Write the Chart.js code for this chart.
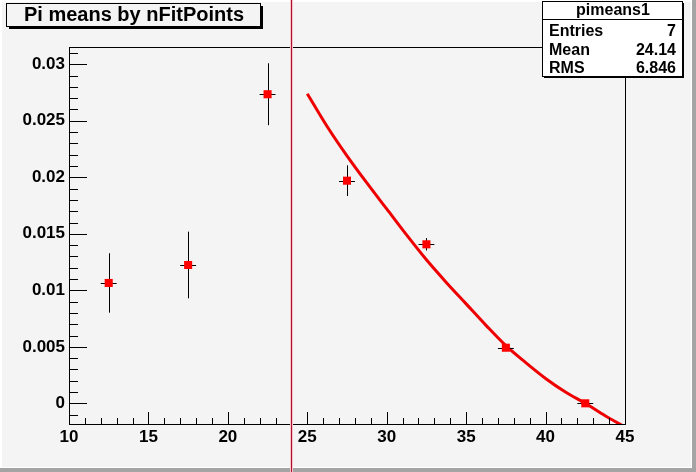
<!DOCTYPE html>
<html>
<head>
<meta charset="utf-8">
<script src="https://cdn.jsdelivr.net/npm/chart.js@4/dist/chart.umd.min.js"></script>
<style>
  html, body { margin: 0; padding: 0; background: #f4f4f4; }
  #wrap { width: 696px; height: 472px; position: relative; }
</style>
</head>
<body>
<div id="wrap"><canvas id="c" width="696" height="472"></canvas></div>
<script>
// ---- data ----
const titleText = "Pi means by nFitPoints";
const statsName = "pimeans1";
const statsLabels = ["Entries", "Mean", "RMS"];
const statsValues = ["7", "24.14", "6.846"];

const binCenters = [12.5, 17.5, 22.5, 27.5, 32.5, 37.5, 42.5];
const binMeans   = [0.01065, 0.01224, 0.02735, 0.0197, 0.01407, 0.00492, 0.0];
const binErrY    = [0.00263, 0.00295, 0.00274, 0.00136, 0.00055, 0.0002, 0.0001];
const binErrX    = [0.5, 0.5, 0.5, 0.5, 0.5, 0.5, 0.5];

const fitX = [25, 26.25, 27.5, 28.75, 30, 31.25, 32.5, 33.75, 35, 36.25, 37.5, 38.75, 40, 41.25, 42.5, 43.75, 45];
const fitY = [0.0274, 0.0245, 0.0219, 0.0195, 0.0172, 0.0149, 0.0127, 0.0107, 0.0088, 0.0069, 0.0051, 0.0036, 0.0022, 0.0010, 0.0000, -0.0011, -0.0021];

const markerLineX = 24;

const xTicks = [10, 15, 20, 25, 30, 35, 40, 45];
const yTicks = [0, 0.005, 0.01, 0.015, 0.02, 0.025, 0.03];
const xRange = [10, 45];
const yRange = [-0.00183, 0.03153];

const FONT = '"Liberation Sans", Arial, Helvetica, sans-serif';
const BG = '#f4f4f4';

const rootPlugin = {
  id: 'rootStyle',
  beforeDraw(chart) {
    const ctx = chart.ctx, W = chart.width, H = chart.height;
    ctx.save();
    ctx.fillStyle = BG;
    ctx.fillRect(0, 0, W, H);
    ctx.fillStyle = '#ffffff';
    ctx.fillRect(0, 0, W, 2);
    ctx.fillRect(0, 0, 2, H);
    ctx.fillStyle = '#a4a4a4';
    ctx.fillRect(0, H - 4, W, 4);
    ctx.fillRect(W - 4, 0, 4, H);
    ctx.fillStyle = '#ffffff';
    ctx.fillRect(2, H - 5, W - 6, 1);
    ctx.fillRect(W - 5, 2, 1, H - 6);
    ctx.restore();
  },
  beforeDatasetDraw(chart, args) {
    if (args.index !== 0) return;
    const ctx = chart.ctx, xs = chart.scales.x, ys = chart.scales.y;
    ctx.save();
    ctx.strokeStyle = '#000000';
    ctx.lineWidth = 1;
    ctx.beginPath();
    for (let i = 0; i < binCenters.length; i++) {
      const px = Math.round(xs.getPixelForValue(binCenters[i])) + 0.5;
      const py = Math.round(ys.getPixelForValue(binMeans[i])) + 0.5;
      const y1 = ys.getPixelForValue(binMeans[i] + binErrY[i]);
      const y2 = ys.getPixelForValue(binMeans[i] - binErrY[i]);
      const x1 = xs.getPixelForValue(binCenters[i] - binErrX[i]);
      const x2 = xs.getPixelForValue(binCenters[i] + binErrX[i]);
      ctx.moveTo(px, y1); ctx.lineTo(px, y2);
      ctx.moveTo(x1, py); ctx.lineTo(x2, py);
    }
    ctx.stroke();
    ctx.restore();
  },
  afterDatasetsDraw(chart) {
    const ctx = chart.ctx, a = chart.chartArea, xs = chart.scales.x, ys = chart.scales.y;
    ctx.save();
    ctx.strokeStyle = '#000000';
    ctx.lineWidth = 1;
    ctx.strokeRect(Math.round(a.left) + 0.5, Math.round(a.top) + 0.5,
                   Math.round(a.right - a.left), Math.round(a.bottom - a.top));
    ctx.beginPath();
    for (let v = xRange[0]; v <= xRange[1] + 1e-9; v += 1) {
      const major = xTicks.indexOf(v) >= 0;
      const px = Math.round(xs.getPixelForValue(v)) + 0.5;
      const len = major ? 12 : 6;
      ctx.moveTo(px, a.bottom); ctx.lineTo(px, a.bottom - len);
    }
    for (let k = -1; k <= 31; k++) {
      const v = k * 0.001;
      const major = (k % 5 === 0);
      const py = Math.round(ys.getPixelForValue(v)) + 0.5;
      if (py < a.top || py > a.bottom) continue;
      const len = major ? 18 : 9;
      ctx.moveTo(a.left, py); ctx.lineTo(a.left + len, py);
    }
    ctx.stroke();
    ctx.restore();
  },
  afterDraw(chart) {
    const ctx = chart.ctx, xs = chart.scales.x;
    ctx.save();
    // title pave
    const tb = {x: 6, y: 3, w: 254, h: 23};
    ctx.fillStyle = '#000';
    ctx.fillRect(tb.x + 3, tb.y + tb.h, tb.w, 3);
    ctx.fillRect(tb.x + tb.w, tb.y + 3, 3, tb.h);
    ctx.fillStyle = BG;
    ctx.fillRect(tb.x, tb.y, tb.w, tb.h);
    ctx.strokeStyle = '#000';
    ctx.lineWidth = 1;
    ctx.strokeRect(tb.x + 0.5, tb.y + 0.5, tb.w, tb.h);
    ctx.fillStyle = '#000';
    ctx.font = 'bold 20px ' + FONT;
    ctx.textAlign = 'center';
    ctx.textBaseline = 'alphabetic';
    ctx.fillText(titleText, tb.x + tb.w / 2 + 1, 21);

    // stats pave
    const sb = {x: 542, y: 1, w: 140, h: 75};
    ctx.fillStyle = '#000';
    ctx.fillRect(sb.x + 2, sb.y + sb.h, sb.w, 2);
    ctx.fillRect(sb.x + sb.w, sb.y + 2, 2, sb.h);
    ctx.fillStyle = '#ffffff';
    ctx.fillRect(sb.x, sb.y, sb.w, sb.h);
    ctx.strokeRect(sb.x + 0.5, sb.y + 0.5, sb.w, sb.h);
    ctx.beginPath();
    ctx.moveTo(sb.x, 19.5); ctx.lineTo(sb.x + sb.w, 19.5);
    ctx.stroke();
    ctx.fillStyle = '#000';
    ctx.font = 'bold 16px ' + FONT;
    ctx.textAlign = 'center';
    ctx.fillText(statsName, sb.x + sb.w / 2 + 1, 15);
    const rowsY = [36, 55, 73];
    for (let i = 0; i < statsLabels.length; i++) {
      ctx.textAlign = 'left';
      ctx.fillText(statsLabels[i], 549, rowsY[i]);
      ctx.textAlign = 'right';
      ctx.fillText(statsValues[i], 676, rowsY[i]);
    }
    ctx.restore();

    // vertical red line across the whole canvas (with soft pink halo like the reference)
    ctx.save();
    const lx = Math.round(xs.getPixelForValue(markerLineX));
    ctx.fillStyle = '#f6c4cc';
    ctx.fillRect(lx - 1, 0, 1, chart.height);
    ctx.fillRect(lx + 1, 0, 1, chart.height);
    ctx.fillStyle = '#b01028';
    ctx.fillRect(lx, 0, 1, chart.height);
    ctx.restore();
  }
};

new Chart(document.getElementById('c'), {
  type: 'scatter',
  data: {
    datasets: [
      {
        label: 'means',
        data: binCenters.map((x, i) => ({x: x, y: binMeans[i]})),
        pointStyle: 'rect',
        pointRadius: 5.7,
        pointHoverRadius: 5.7,
        pointBackgroundColor: '#ff0000',
        pointBorderWidth: 0,
        showLine: false
      },
      {
        label: 'fit',
        data: fitX.map((x, i) => ({x: x, y: fitY[i]})),
        showLine: true,
        borderColor: '#ee0000',
        borderWidth: 3,
        pointRadius: 0,
        cubicInterpolationMode: 'monotone',
        fill: false,
        clip: 0
      }
    ]
  },
  options: {
    responsive: false,
    animation: false,
    events: [],
    devicePixelRatio: 1,
    layout: { padding: { left: 0, top: 47, right: 71, bottom: 0 } },
    plugins: { legend: { display: false }, tooltip: { enabled: false }, title: { display: false } },
    scales: {
      x: {
        type: 'linear',
        min: xRange[0], max: xRange[1],
        grid: { display: false, drawTicks: false },
        border: { display: false },
        afterBuildTicks: (s) => { s.ticks = xTicks.map(v => ({value: v})); },
        afterFit: (s) => { s.height = 48; },
        ticks: {
          autoSkip: false, maxRotation: 0, padding: 3,
          color: '#000',
          font: { family: FONT, size: 17, weight: 'bold' },
          callback: (v) => String(v)
        }
      },
      y: {
        type: 'linear',
        min: yRange[0], max: yRange[1],
        grid: { display: false, drawTicks: false },
        border: { display: false },
        afterBuildTicks: (s) => { s.ticks = yTicks.map(v => ({value: v})); },
        afterFit: (s) => { s.width = 69; },
        ticks: {
          autoSkip: false, padding: 4,
          color: '#000',
          font: { family: FONT, size: 17, weight: 'bold' },
          callback: (v) => String(v)
        }
      }
    }
  },
  plugins: [rootPlugin]
});
</script>
</body>
</html>
